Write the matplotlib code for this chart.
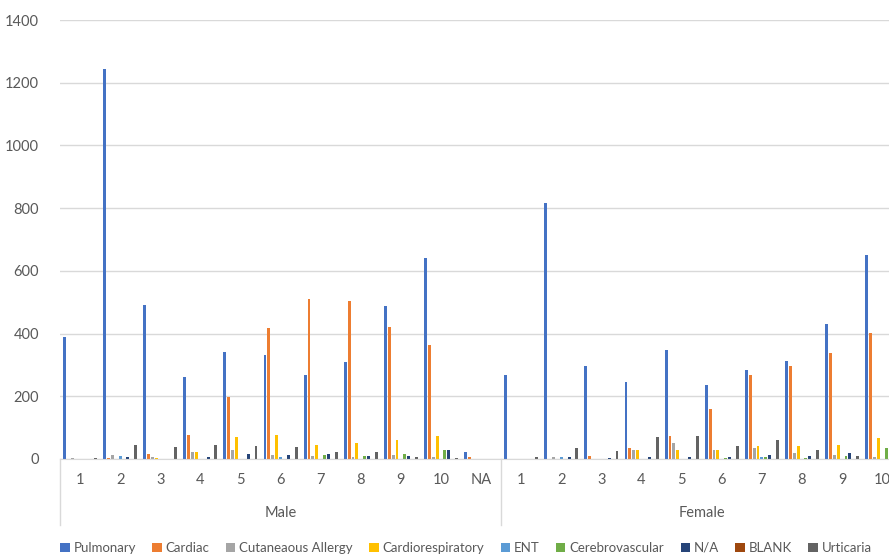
import numpy as np
import matplotlib.pyplot as plt

plt.rcParams['font.family'] = ['Lato', 'DejaVu Sans']

# categories: Male 1-10, NA ; Female 1-10
sub_labels = ["1", "2", "3", "4", "5", "6", "7", "8", "9", "10", "NA",
              "1", "2", "3", "4", "5", "6", "7", "8", "9", "10"]
groups = ["Male", "Female"]
group_sizes = [11, 10]

series = ["Pulmonary", "Cardiac", "Cutaneaous Allergy", "Cardiorespiratory",
          "ENT", "Cerebrovascular", "N/A", "BLANK", "Urticaria"]

pulmonary = [388, 1245, 490, 261, 341, 332, 268, 310, 488, 641, 21,
             268, 815, 297, 246, 348, 237, 285, 313, 430, 651]
cardiac = [0, 3, 16, 77, 198, 418, 510, 504, 421, 364, 5,
           0, 0, 9, 36, 74, 158, 268, 297, 338, 402]
cutaneous = [2, 14, 7, 23, 29, 14, 9, 5, 14, 5, 0,
             0, 5, 0, 28, 52, 30, 35, 19, 12, 5]
cardioresp = [0, 0, 3, 21, 69, 78, 45, 51, 62, 74, 0,
              0, 0, 0, 29, 29, 29, 43, 43, 46, 66]
ent = [0, 11, 0, 0, 0, 5, 0, 0, 0, 0, 0,
       0, 5, 0, 0, 0, 0, 5, 0, 0, 0]
cerebro = [0, 0, 0, 0, 0, 0, 12, 11, 17, 30, 0,
           0, 0, 0, 0, 0, 2, 5, 3, 9, 34]
na_vals = [0, 5, 0, 7, 15, 12, 16, 11, 11, 28, 0,
           0, 5, 2, 7, 5, 5, 14, 9, 18, 15]
blank = [0, 0, 0, 0, 0, 0, 0, 0, 0, 0, 0,
         0, 0, 0, 0, 0, 0, 0, 0, 0, 0]
urticaria = [3, 46, 37, 46, 43, 37, 21, 21, 5, 3, 0,
             5, 35, 27, 70, 74, 40, 62, 29, 11, 10]

values = [pulmonary, cardiac, cutaneous, cardioresp, ent, cerebro, na_vals, blank, urticaria]
colors = ["#4472C4", "#ED7D31", "#A5A5A5", "#FFC000", "#5B9BD5",
          "#70AD47", "#264478", "#9E480E", "#636363"]

fig = plt.figure(figsize=(8.89, 5.56), dpi=100)
ax = fig.add_axes([60 / 889, 1 - 459 / 556, 1 - 60 / 889, 439 / 556])

x = np.arange(len(sub_labels))
slot = 0.097
width = 0.072
for k, (name, vals, c) in enumerate(zip(series, values, colors)):
    ax.bar(x + (k - 4) * slot, vals, width=width, color=c, label=name, zorder=2)

ax.set_xlim(-0.5, 20.17)
ax.set_ylim(0, 1400)
ax.set_yticks(range(0, 1401, 200))
ax.yaxis.grid(True, color="#d9d9d9", linewidth=1, zorder=0)
for s in ["top", "right", "left"]:
    ax.spines[s].set_visible(False)
ax.spines["bottom"].set_color("#d9d9d9")
ax.tick_params(axis="y", length=0, pad=15, labelsize=10.5, labelcolor="#595959")
ax.tick_params(axis="x", length=0, pad=10, labelsize=10.5, labelcolor="#595959")
ax.set_xticks(x)
ax.set_xticklabels(sub_labels)

# group labels and separators
start = 0
trans = ax.get_xaxis_transform()
for g, n in zip(groups, group_sizes):
    ax.plot([start - 0.5, start - 0.5], [0, -0.15], transform=trans,
            color="#d9d9d9", linewidth=1, clip_on=False)
    center = start + (n - 1) / 2
    ax.text(center, -0.123, g, transform=trans, ha="center", va="center",
            fontsize=10.5, color="#595959")
    start += n

fig.legend(loc="center", bbox_to_anchor=(466 / 889, 1 - 548 / 556), ncol=9,
           frameon=False, fontsize=9.5, handlelength=0.7, handleheight=0.7,
           handletextpad=0.3, columnspacing=1.25, labelcolor="#595959")

plt.savefig("out.png", dpi=100)
